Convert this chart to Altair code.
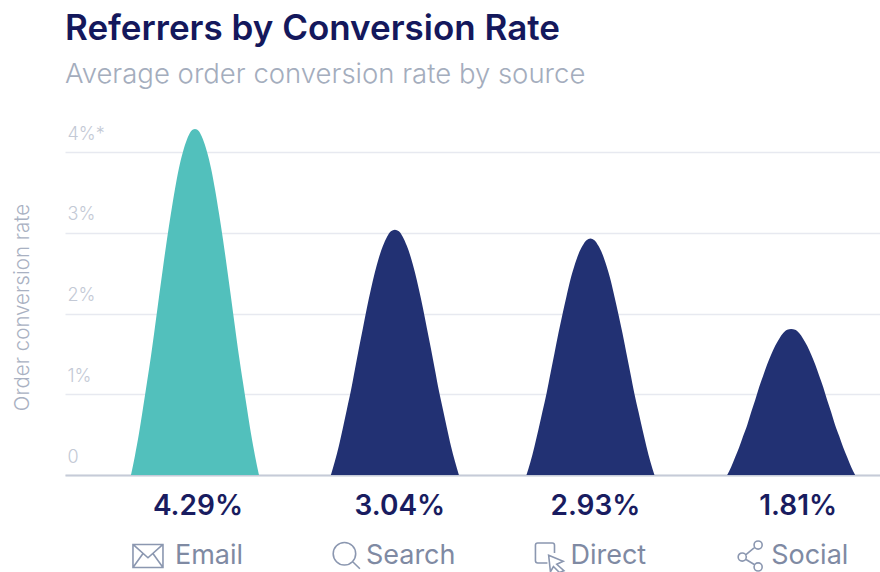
import altair as alt
import pandas as pd

# Sources and their headline conversion rates (percent)
sources = ["Email", "Search", "Direct", "Social"]
rates = [4.29, 3.04, 2.93, 1.81]
hump_colors = ["#52c0bc", "#223173", "#223173", "#223173"]

# Centre of each hump along the category axis
centres = [0, 1.006, 1.99, 3.0]

# Horizontal distance from a hump's centre, in units of one category step
offsets = [0.322, 0.302, 0.282, 0.262, 0.242, 0.221, 0.201, 0.181, 0.161,
           0.141, 0.121, 0.101, 0.081, 0.060, 0.040, 0.020, 0.0]

# Outline heights of each hump, from its foot up to its peak
email_outline = [0, 0.24, 0.51, 0.82, 1.14, 1.48, 1.84, 2.21, 2.57,
                 2.92, 3.24, 3.54, 3.80, 4.01, 4.16, 4.26, rates[0]]
search_outline = [0, 0.17, 0.36, 0.58, 0.81, 1.05, 1.31, 1.57, 1.82,
                  2.07, 2.30, 2.51, 2.69, 2.84, 2.95, 3.02, rates[1]]
direct_outline = [0, 0.16, 0.35, 0.56, 0.78, 1.01, 1.26, 1.51, 1.76,
                  1.99, 2.21, 2.42, 2.59, 2.74, 2.84, 2.91, rates[2]]
social_outline = [0, 0.10, 0.22, 0.34, 0.48, 0.62, 0.78, 0.93, 1.09,
                  1.23, 1.37, 1.49, 1.60, 1.69, 1.76, 1.80, rates[3]]
outlines = [email_outline, search_outline, direct_outline, social_outline]

y_ticks = [0, 1, 2, 3, 4]

# Line icons, in a unit box around the symbol's centre
ICONS = {
    "Email": "M-1,-0.77 L1,-0.77 L1,0.77 L-1,0.77 Z M-1,-0.77 L0,0.12 L1,-0.77 M-1,0.77 L-0.33,-0.17 M1,0.77 L0.33,-0.17",
    "Search": "M0.62,-0.15 A0.75,0.75 0 1 1 -0.88,-0.15 A0.75,0.75 0 1 1 0.62,-0.15 Z M0.42,0.38 L0.9,0.85",
    "Direct": "M0.27,-0.2 L0.27,-0.72 Q0.27,-0.87 0.12,-0.87 L-0.85,-0.87 Q-1,-0.87 -1,-0.72 L-1,0.32 Q-1,0.47 -0.85,0.47 L-0.2,0.47 "
              "M-0.12,-0.05 L0.85,0.35 L0.42,0.55 L0.9,0.98 L0.6,1.1 L0.2,0.7 L0,1.05 Z",
    "Social": "M0.8,-0.73 A0.27,0.27 0 1 1 0.26,-0.73 A0.27,0.27 0 1 1 0.8,-0.73 Z "
              "M-0.26,0.07 A0.27,0.27 0 1 1 -0.8,0.07 A0.27,0.27 0 1 1 -0.26,0.07 Z "
              "M0.8,0.73 A0.27,0.27 0 1 1 0.26,0.73 A0.27,0.27 0 1 1 0.8,0.73 Z "
              "M0.3,-0.58 L-0.3,-0.08 M0.3,0.58 L-0.3,0.22",
}

# Placement of the captions under each hump, relative to its centre
VALUE_DX = {"Email": 3, "Search": 5, "Direct": 5, "Social": 7}
NAME_DX = {"Email": -20, "Search": -29, "Direct": -20, "Social": -20}
ICON_DX = {"Email": -47, "Search": -48.5, "Direct": -40, "Social": -41}

rows = []
for source, centre, outline in zip(sources, centres, outlines):
    for off, rate in zip(offsets, outline):
        rows.append({"source": source, "pos": centre - off, "rate": rate})
    for off, rate in zip(reversed(offsets[:-1]), reversed(outline[:-1])):
        rows.append({"source": source, "pos": centre + off, "rate": rate})
humps = pd.DataFrame(rows)

x_scale = alt.Scale(domain=[-0.654, 3.447], nice=False, zero=False)
y_scale = alt.Scale(domain=[0, 4.4], nice=False)

areas = (
    alt.Chart(humps)
    .mark_area(interpolate="monotone")
    .encode(
        x=alt.X(
            "pos:Q",
            scale=x_scale,
            axis=alt.Axis(
                labels=False, ticks=False, grid=False, title=None,
                domainColor="#c6cbd8", domainWidth=2,
            ),
        ),
        y=alt.Y(
            "rate:Q",
            scale=y_scale,
            stack=None,
            axis=alt.Axis(
                values=y_ticks,
                labelExpr="datum.value === 0 ? '0' : datum.value === 4 ? '4%*' : datum.value + '%'",
                labelAlign="left",
                labelBaseline="bottom",
                labelOffset=-9,
                labelPadding=-2,
                labelFont="Inter",
                labelFontSize=18,
                labelFontWeight=300,
                labelColor="#c3c9d5",
                ticks=False,
                domain=False,
                grid=True,
                gridColor="#e7e9f0",
                gridWidth=1.5,
                title="Order conversion rate",
                titleFont="Inter",
                titleFontSize=20.5,
                titleFontWeight=300,
                titleColor="#a9b1c2",
                titleX=-33,
                titleY=187,
                titleAnchor="middle",
            ),
        ),
        color=alt.Color(
            "source:N",
            scale=alt.Scale(domain=sources, range=hump_colors),
            legend=None,
        ),
    )
)

layers = [areas]
for source, centre, rate in zip(sources, centres, rates):
    anchor = pd.DataFrame({"pos": [centre], "value": [f"{rate:.2f}%"], "name": [source]})
    base = alt.Chart(anchor).encode(x=alt.X("pos:Q", scale=x_scale))
    layers.append(
        base.mark_text(
            font="Inter", fontSize=28, fontWeight=600, color="#191c60",
            align="center", baseline="middle", dx=VALUE_DX[source],
        ).encode(y=alt.value(387), text="value:N")
    )
    layers.append(
        base.mark_text(
            font="Inter", fontSize=27, fontWeight=400, color="#7f8aa3",
            align="left", baseline="middle", dx=NAME_DX[source],
        ).encode(y=alt.value(436), text="name:N")
    )
    layers.append(
        base.mark_point(
            shape=ICONS[source], filled=False, stroke="#8b97b0", strokeWidth=1.6,
            size=900, opacity=1, xOffset=ICON_DX[source],
        ).encode(y=alt.value(436))
    )

chart = (
    alt.layer(*layers)
    .resolve_scale(x="shared", y="shared")
    .properties(
        width=815,
        height=355,
        padding={"left": 65, "right": 0, "top": 120, "bottom": 97},
        autosize=alt.AutoSizeParams(type="none"),
        background="#ffffff",
        title=alt.TitleParams(
            text="Referrers by Conversion Rate",
            subtitle="Average order conversion rate by source",
            anchor="start",
            frame="group",
            font="Inter",
            fontSize=35,
            fontWeight=600,
            color="#14185c",
            subtitleFont="Inter",
            subtitleFontSize=27.5,
            subtitleFontWeight=300,
            subtitleColor="#a4adbd",
            subtitlePadding=14,
            offset=32,
        ),
    )
    .configure_view(stroke=None)
)

chart.save("out.html", embed_options={"renderer": "svg", "actions": False})
